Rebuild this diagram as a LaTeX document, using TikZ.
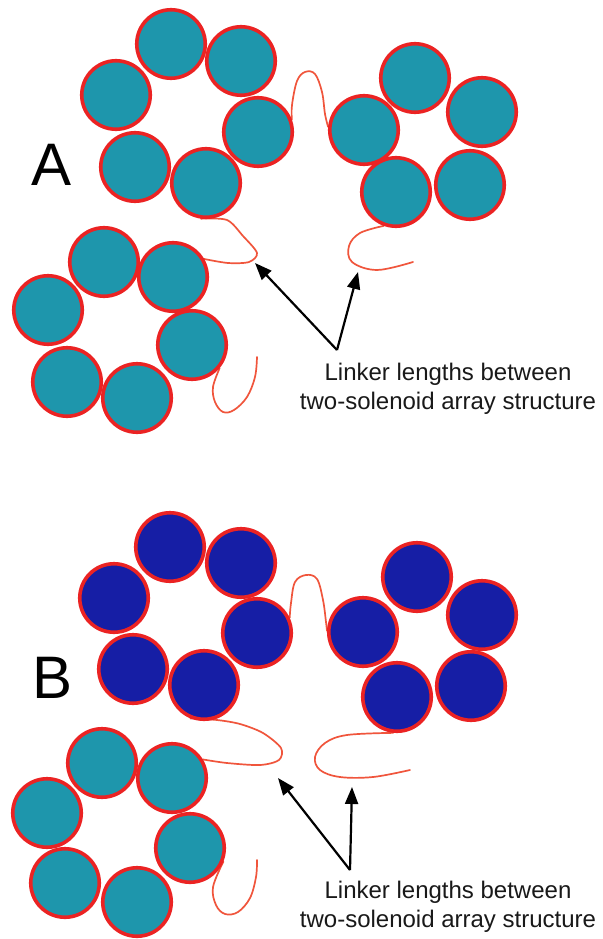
\documentclass[tikz,border=0pt]{standalone}
\usepackage{fontspec}
\setmainfont{Liberation Sans}
\usetikzlibrary{arrows.meta}
\pgfdeclarelayer{background}
\pgfdeclarelayer{paper}
\pgfsetlayers{paper,background,main}

\definecolor{nucteal}{RGB}{30,150,172}
\definecolor{nucblue}{RGB}{22,30,165}
\definecolor{rimred}{RGB}{235,35,35}
\definecolor{linkred}{RGB}{240,85,60}

\tikzset{
  bead/.style={circle, draw=rimred, line width=3.6pt, minimum size=68.5pt, inner sep=0pt},
  tealbead/.style={bead, fill=nucteal},
  bluebead/.style={bead, fill=nucblue},
  linker/.style={draw=linkred, line width=1.7pt, line cap=round, line join=round},
  pointer/.style={draw=black, line width=2.2pt, -{Triangle[length=17pt,width=13pt]}},
  panel/.style={font=\fontsize{60}{60}\selectfont, inner sep=0pt},
  caption/.style={font=\fontsize{24}{28.5}\selectfont, align=center, inner sep=0pt, text=black!90}
}

\begin{document}
\begin{tikzpicture}[x=1pt, y=-1pt]
\begin{pgfonlayer}{paper}
  \fill[white] (0,0) rectangle (602,939);
\end{pgfonlayer}
\useasboundingbox (0,0) rectangle (602,939);

% ---------------- Panel A ----------------
\node[panel] (labA) at (52,165) {A};

% upper-left solenoid turn
\node[tealbead] (a1) at (171,44) {};
\node[tealbead] (a2) at (241,61) {};
\node[tealbead] (a3) at (116,95) {};
\node[tealbead] (a4) at (258,132) {};
\node[tealbead] (a5) at (135,167) {};
\node[tealbead] (a6) at (206,183) {};
% upper-right solenoid turn
\node[tealbead] (b1) at (415,78) {};
\node[tealbead] (b2) at (482,112) {};
\node[tealbead] (b3) at (364,130) {};
\node[tealbead] (b4) at (396,192) {};
\node[tealbead] (b5) at (470,185) {};
% lower-left solenoid turn
\node[tealbead] (c1) at (104,262) {};
\node[tealbead] (c2) at (173,277) {};
\node[tealbead] (c3) at (48,310) {};
\node[tealbead] (c4) at (192,345) {};
\node[tealbead] (c5) at (67,382) {};
\node[tealbead] (c6) at (137,398) {};

\coordinate (endA3) at (413,262);
\coordinate (endA4) at (257,357);

\begin{pgfonlayer}{background}
  \draw[linker] plot[smooth, tension=0.6] coordinates
    {(a4.20) (292,105) (297,81) (305,72) (315,74) (322,92) (325,114) (b3.175)};
  \draw[linker] plot[smooth, tension=0.5] coordinates
    {(a6.262) (227,220) (243,236) (257,253) (249,262) (228,263) (c2.30)};
  \draw[linker] plot[smooth, tension=0.6] coordinates
    {(b4.250) (360,233) (349,246) (352,262) (377,270) (endA3)};
  \draw[linker] plot[smooth, tension=0.6] coordinates
    {(c4.-40) (213,387) (215,402) (223,412) (234,410) (247,397) (255,377) (endA4)};
\end{pgfonlayer}

\coordinate (apexA) at (337,350);
\coordinate (tipA1) at (255,263);
\coordinate (tipA2) at (358,272);
\draw[pointer] (apexA) -- (tipA1);
\draw[pointer] (apexA) -- (tipA2);
\node[caption] (capA) at (448,389) {Linker lengths between\\two-solenoid array structure};

% ---------------- Panel B ----------------
\node[panel] (labB) at (53,678) {B};

% upper-left solenoid turn
\node[bluebead] (d1) at (170,547) {};
\node[bluebead] (d2) at (241,563) {};
\node[bluebead] (d3) at (114,598) {};
\node[bluebead] (d4) at (257,633) {};
\node[bluebead] (d5) at (133,669) {};
\node[bluebead] (d6) at (204,685) {};
% upper-right solenoid turn
\node[bluebead] (e1) at (417,577) {};
\node[bluebead] (e2) at (482,615) {};
\node[bluebead] (e3) at (363,632) {};
\node[bluebead] (e4) at (397,697) {};
\node[bluebead] (e5) at (471,686) {};
% lower-left solenoid turn
\node[tealbead] (f1) at (102,763) {};
\node[tealbead] (f2) at (172,778) {};
\node[tealbead] (f3) at (47,813) {};
\node[tealbead] (f4) at (190,848) {};
\node[tealbead] (f5) at (65,883) {};
\node[tealbead] (f6) at (137,902) {};

\coordinate (endB3) at (410,770);
\coordinate (endB4) at (257,860);

\begin{pgfonlayer}{background}
  \draw[linker] plot[smooth, tension=0.6] coordinates
    {(d4.25) (291,603) (295,582) (306,575) (317,579) (323,600) (326,622) (e3.178)};
  \draw[linker] plot[smooth, tension=0.5] coordinates
    {(d6.248) (217,720) (240,724) (263,733) (281,748) (279,760) (260,765) (227,763) (f2.31)};
  \draw[linker] plot[smooth, tension=0.6] coordinates
    {(e4.264) (347,735) (325,743) (315,757) (320,770) (340,777) (373,777) (endB3)};
  \draw[linker] plot[smooth, tension=0.6] coordinates
    {(f4.-22) (213,887) (216,905) (225,914) (238,912) (250,898) (256,877) (endB4)};
\end{pgfonlayer}

\coordinate (apexB) at (350,870);
\coordinate (tipB1) at (278,778);
\coordinate (tipB2) at (352,787);
\draw[pointer] (apexB) -- (tipB1);
\draw[pointer] (apexB) -- (tipB2);
\node[caption] (capB) at (448,907) {Linker lengths between\\two-solenoid array structure};

\end{tikzpicture}
\end{document}
